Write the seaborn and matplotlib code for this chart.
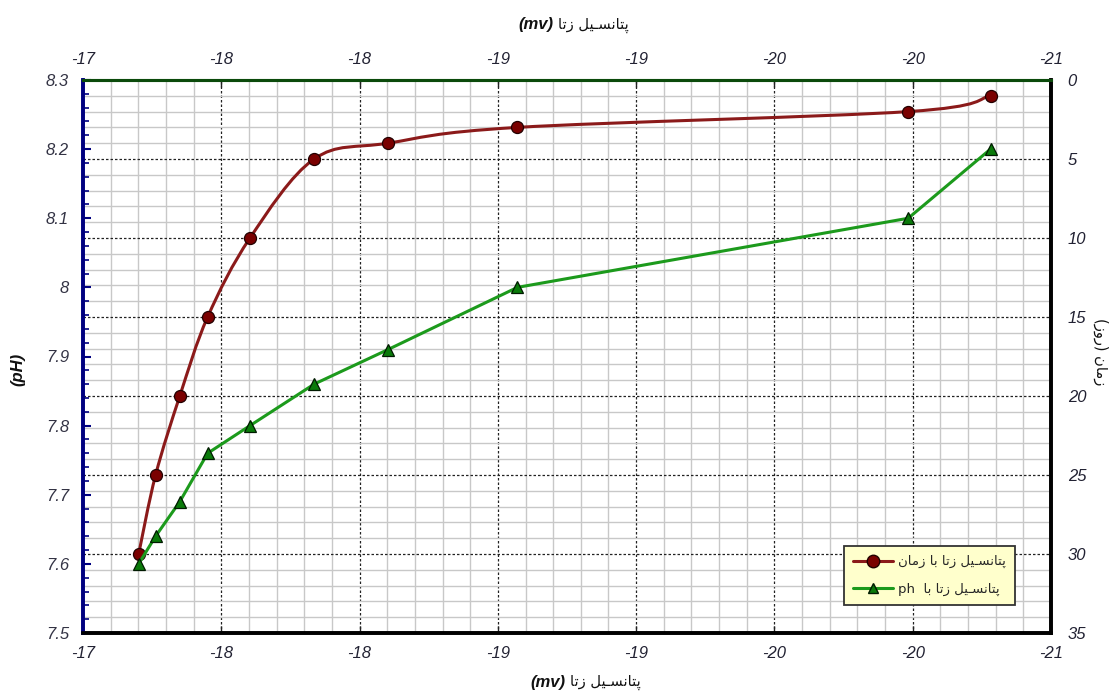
import numpy as np
import pandas as pd
import matplotlib
matplotlib.use("Agg")
import matplotlib.pyplot as plt
import seaborn as sns
from matplotlib.path import Path
from matplotlib.patches import PathPatch
from matplotlib.lines import Line2D
from matplotlib.ticker import FixedLocator, FuncFormatter, MultipleLocator

# ---------------- data ----------------
zeta_mv = [-17.23, -17.30, -17.40, -17.515, -17.69, -17.955, -18.26, -18.795, -20.41, -20.75]
time_days = [30, 25, 20, 15, 10, 5, 4, 3, 2, 1]
ph_values = [7.60, 7.64, 7.69, 7.76, 7.80, 7.86, 7.91, 8.00, 8.10, 8.20]

x_label_fa = "پتانسـیل زتا"
x_label_unit = "(mv)"
y_left_label = "(pH)"
y_right_label_fa = "زمان (روز)"
legend_time_fa = "پتانسـیل زتا با زمان"
legend_ph_fa = "پتانسـیل زتا با"
legend_ph_latin = "ph"

# ---------------- simple Persian shaping (presentation forms) ----------------
FORMS = {
    'ا': ('\uFE8D', '\uFE8E', None, None),
    'ب': ('\uFE8F', '\uFE90', '\uFE91', '\uFE92'),
    'پ': ('\uFB56', '\uFB57', '\uFB58', '\uFB59'),
    'ت': ('\uFE95', '\uFE96', '\uFE97', '\uFE98'),
    'ز': ('\uFEAF', '\uFEB0', None, None),
    'ر': ('\uFEAD', '\uFEAE', None, None),
    'و': ('\uFEED', '\uFEEE', None, None),
    'س': ('\uFEB1', '\uFEB2', '\uFEB3', '\uFEB4'),
    'ل': ('\uFEDD', '\uFEDE', '\uFEDF', '\uFEE0'),
    'م': ('\uFEE1', '\uFEE2', '\uFEE3', '\uFEE4'),
    'ن': ('\uFEE5', '\uFEE6', '\uFEE7', '\uFEE8'),
    'ی': ('\uFBFC', '\uFBFD', '\uFBFE', '\uFBFF'),
}
KASHIDA = 'ـ'


def _dual(c):
    return c == KASHIDA or (c in FORMS and FORMS[c][2] is not None)


def _joinable(c):
    return c == KASHIDA or c in FORMS


def shape(text):
    out = []
    n = len(text)
    for i, c in enumerate(text):
        if c not in FORMS:
            out.append(c)
            continue
        prev = text[i - 1] if i > 0 else ''
        nxt = text[i + 1] if i + 1 < n else ''
        jp = prev != '' and _dual(prev)
        jn = _dual(c) and nxt != '' and _joinable(nxt)
        iso, fin, ini, med = FORMS[c]
        if jp and jn:
            out.append(med)
        elif jp:
            out.append(fin)
        elif jn:
            out.append(ini)
        else:
            out.append(iso)
    return ''.join(out)


def rtl(text):
    s = shape(text)[::-1]
    return s.translate(str.maketrans('()', ')('))


# ---------------- style ----------------
sns.set_theme(style="white")
plt.rcParams['font.family'] = ['Liberation Sans', 'DejaVu Sans']
plt.rcParams['axes.unicode_minus'] = False

fig = plt.figure(figsize=(11.14, 6.97), dpi=100)
W, H = 1114, 697
ax = fig.add_axes([83 / W, 1 - 633 / H, (1051 - 83) / W, (633 - 80) / H])
axp = ax.twinx()

# time axis (right), holds the grid
ax.set_xlim(-17, -21)
ax.set_ylim(35, 0)
ax.yaxis.tick_right()
ax.yaxis.set_label_position('right')
axp.yaxis.tick_left()
axp.yaxis.set_label_position('left')
axp.set_ylim(7.5, 8.3)

xmajor = np.linspace(-17, -21, 8)
xminor = np.linspace(-17, -21, 36)
ax.xaxis.set_major_locator(FixedLocator(xmajor))
ax.xaxis.set_minor_locator(FixedLocator(xminor))
ax.xaxis.set_major_formatter(FuncFormatter(lambda v, p: f"{int(round(v))}"))
ax.yaxis.set_major_locator(MultipleLocator(5))
ax.yaxis.set_minor_locator(MultipleLocator(1))
axp.yaxis.set_major_locator(MultipleLocator(0.1))
axp.yaxis.set_minor_locator(MultipleLocator(0.02))
axp.yaxis.set_major_formatter(FuncFormatter(lambda v, p: f"{v:.1f}".rstrip('0').rstrip('.')))

ax.grid(which='minor', color='#c8c8c8', lw=1.0, ls='-', zorder=0)
ax.grid(which='major', color='#222222', lw=0.9, ls=(0, (2, 1.6)), zorder=1)
ax.set_axisbelow(True)

ax.tick_params(axis='x', which='both', top=True, labeltop=True, bottom=True, labelbottom=True,
               direction='in', length=0, pad=9, labelcolor='#222233')
ax.tick_params(axis='x', which='major', length=5, width=1, color='#222222')
ax.tick_params(axis='y', which='both', length=0, pad=12, labelcolor='#222233')
axp.tick_params(axis='y', which='major', direction='in', length=6, width=1.5, color='#000080',
                pad=10, labelcolor='#333344')
axp.tick_params(axis='y', which='minor', direction='in', length=4, width=1.2, color='#000080')
ax.xaxis.set_tick_params(labelsize=12)
for lab in ax.get_xticklabels() + ax.get_yticklabels() + axp.get_yticklabels():
    lab.set_fontsize(12)
    lab.set_fontstyle('italic')
plt.setp(ax.xaxis.get_majorticklabels(), fontstyle='italic')
for t in ax.xaxis.get_major_ticks():
    t.label2.set_fontstyle('italic')
    t.label2.set_fontsize(12)

for a in (ax, axp):
    a.spines['top'].set_color('#0b4a0b')
    a.spines['top'].set_linewidth(2.2)
    a.spines['bottom'].set_color('black')
    a.spines['bottom'].set_linewidth(2.6)
    a.spines['right'].set_color('black')
    a.spines['right'].set_linewidth(2.6)
    a.spines['left'].set_color('#000080')
    a.spines['left'].set_linewidth(2.6)

# ---------------- red smoothed curve (time) ----------------
red_line = '#8B1A1A'
pts = np.column_stack([zeta_mv, time_days]).astype(float)
n = len(pts)
verts = [tuple(pts[0])]
codes = [Path.MOVETO]
for i in range(n - 1):
    p0 = pts[i - 1] if i > 0 else pts[i]
    p1 = pts[i]
    p2 = pts[i + 1]
    p3 = pts[i + 2] if i + 2 < n else pts[i + 1]
    c1 = p1 + (p2 - p0) / 6.0
    c2 = p2 - (p3 - p1) / 6.0
    verts += [tuple(c1), tuple(c2), tuple(p2)]
    codes += [Path.CURVE4] * 3
ax.add_patch(PathPatch(Path(verts, codes), fill=False, edgecolor=red_line, lw=2.2, zorder=3))
df_t = pd.DataFrame({'zeta': zeta_mv, 'time': time_days})
sns.scatterplot(data=df_t, x='zeta', y='time', ax=ax, marker='o', s=75, color='#7a0000',
                edgecolor='#220000', linewidth=0.9, zorder=4, legend=False)

# ---------------- green pH line ----------------
green_line = '#1c9a1c'
df_p = pd.DataFrame({'zeta': zeta_mv, 'ph': ph_values})
sns.lineplot(data=df_p, x='zeta', y='ph', ax=axp, color=green_line, lw=2.2, estimator=None, sort=False,
             marker='^', markersize=8, markerfacecolor='#0a7a0a', markeredgecolor='#001a00',
             markeredgewidth=0.9, legend=False)
axp.set_xlim(-17, -21)
ax.set_xlabel('')
ax.set_ylabel('')
axp.set_xlabel('')
axp.set_ylabel('')

# ---------------- labels ----------------
fa_font = ['DejaVu Sans']
fig.text(565 / W, 1 - 682 / H, x_label_unit, ha='right', va='center', fontsize=12,
         fontweight='bold', fontstyle='italic', color='#111111')
fig.text(570 / W, 1 - 682 / H, rtl(x_label_fa), ha='left', va='center', fontsize=10.5,
         family=fa_font, color='#111111')
fig.text(553 / W, 1 - 25 / H, x_label_unit, ha='right', va='center', fontsize=12,
         fontweight='bold', fontstyle='italic', color='#111111')
fig.text(558 / W, 1 - 25 / H, rtl(x_label_fa), ha='left', va='center', fontsize=10.5,
         family=fa_font, color='#111111')
fig.text(18 / W, 1 - 369 / H, y_left_label, ha='center', va='center', rotation=90, fontsize=12,
         fontweight='bold', fontstyle='italic', color='#111111')
fig.text(1101 / W, 1 - 352 / H, rtl(y_right_label_fa), ha='center', va='center', rotation=-90,
         fontsize=10.5, family=fa_font, color='#111111')

# ---------------- legend ----------------
handles = [
    Line2D([], [], color=red_line, lw=2.2, marker='o', markersize=9, markerfacecolor='#7a0000',
           markeredgecolor='#220000'),
    Line2D([], [], color=green_line, lw=2.2, marker='^', markersize=7, markerfacecolor='#0a7a0a',
           markeredgecolor='#001a00'),
]
labels = [rtl(legend_time_fa), legend_ph_latin + '  ' + rtl(legend_ph_fa)]
leg = axp.legend(handles, labels, loc='upper left', bbox_to_anchor=(844 / W, 1 - 546 / H),
                 bbox_transform=fig.transFigure, frameon=True, fancybox=False, framealpha=1,
                 facecolor='#ffffcc', edgecolor='#333333', prop={'family': fa_font, 'size': 9.5},
                 handlelength=3.0, handletextpad=0.4, borderpad=0.7, labelspacing=1.1,
                 borderaxespad=0)
leg.get_frame().set_linewidth(1.3)
leg.set_zorder(10)

fig.savefig('out.png', dpi=100)
